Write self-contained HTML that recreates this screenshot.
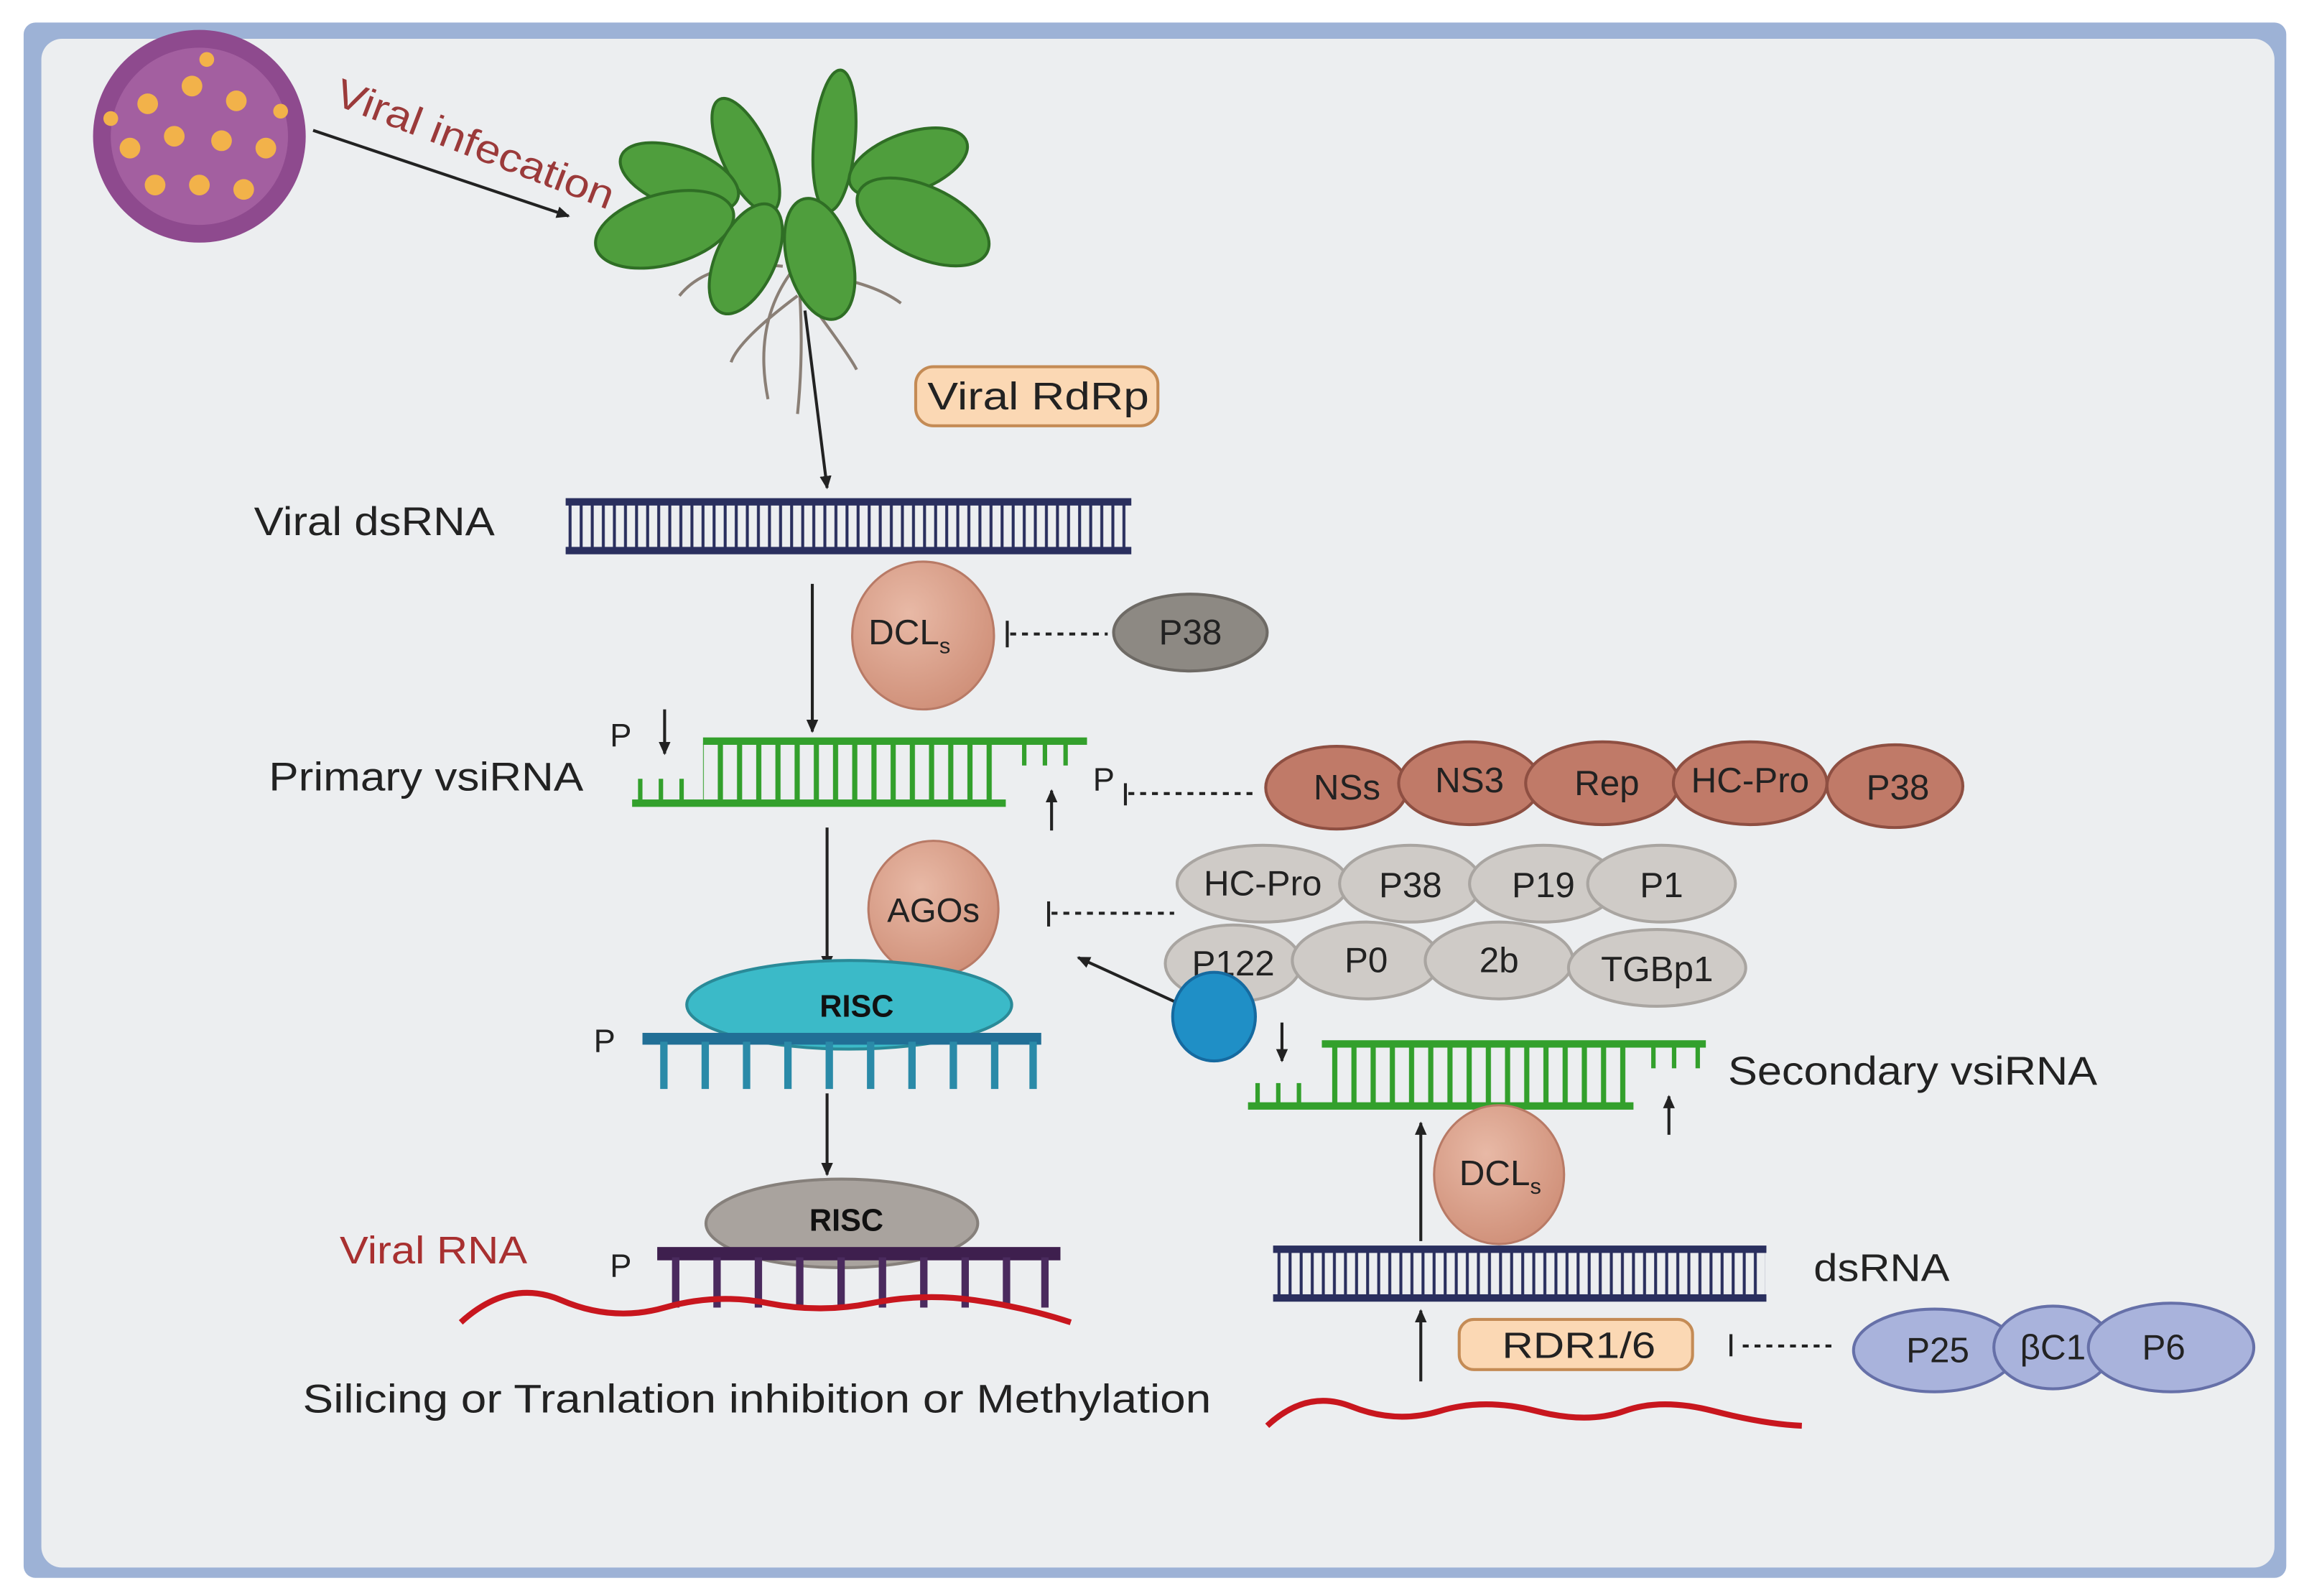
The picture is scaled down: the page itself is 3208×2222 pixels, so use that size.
<!DOCTYPE html>
<html><head><meta charset="utf-8"><style>
html,body{margin:0;padding:0;background:#fff}
svg{display:block}
text{font-family:"Liberation Sans",sans-serif}
</style></head><body>
<svg width="3208" height="2222" viewBox="0 0 1560 1080" xmlns="http://www.w3.org/2000/svg">
<defs>
<marker id="ah" markerWidth="10" markerHeight="10" refX="8" refY="5" orient="auto" markerUnits="userSpaceOnUse"><path d="M0,1 L9,5 L0,9z" fill="#222"/></marker>
<pattern id="navy" width="7.5" height="40" patternUnits="userSpaceOnUse"><rect x="2.5" y="0" width="2" height="40" fill="#2a2f5e"/></pattern>
<pattern id="grn" width="13" height="60" patternUnits="userSpaceOnUse"><rect x="5" y="0" width="3.5" height="60" fill="#33a02c"/></pattern>
<radialGradient id="pk" cx="40%" cy="35%" r="70%"><stop offset="0" stop-color="#e8b9a6"/><stop offset="1" stop-color="#cf8f78"/></radialGradient>
</defs>
<rect x="0" y="0" width="1560" height="1080" fill="#fff"/>
<rect x="16" y="15" width="1532" height="1053" rx="8" fill="#9db2d6"/>
<rect x="28" y="26" width="1512" height="1035" rx="14" fill="#eceef0"/>

<!-- virus -->
<circle cx="135" cy="92" r="72" fill="#8e4a8e"/>
<circle cx="135" cy="92" r="60" fill="#a35fa0"/>
<g fill="#f2b24a">
<circle cx="100" cy="70" r="7"/><circle cx="130" cy="58" r="7"/><circle cx="160" cy="68" r="7"/><circle cx="88" cy="100" r="7"/><circle cx="118" cy="92" r="7"/><circle cx="150" cy="95" r="7"/><circle cx="180" cy="100" r="7"/><circle cx="105" cy="125" r="7"/><circle cx="135" cy="125" r="7"/><circle cx="165" cy="128" r="7"/><circle cx="140" cy="40" r="5"/><circle cx="75" cy="80" r="5"/><circle cx="190" cy="75" r="5"/></g>
<text x="225" y="70" font-size="27" fill="#9b3a3a" transform="rotate(21 225 70)" textLength="200" lengthAdjust="spacingAndGlyphs">Viral infecation</text>
<line x1="212" y1="88" x2="385" y2="146" stroke="#222" stroke-width="2" marker-end="url(#ah)"/>

<!-- plant -->
<g stroke="#8a7f76" stroke-width="2" fill="none">
<path d="M540 180 Q545 230 540 280"/><path d="M535 185 Q510 220 520 270"/><path d="M530 180 Q480 175 460 200"/><path d="M548 185 Q590 190 610 205"/><path d="M540 200 Q500 230 495 245"/><path d="M545 200 Q575 240 580 250"/></g>
<g fill="#4f9e3d" stroke="#2f6e25" stroke-width="2">
<ellipse cx="565" cy="95" rx="14" ry="48" transform="rotate(5 565 95)"/>
<ellipse cx="505" cy="105" rx="16" ry="42" transform="rotate(-25 505 105)"/>
<ellipse cx="460" cy="120" rx="42" ry="20" transform="rotate(20 460 120)"/>
<ellipse cx="615" cy="110" rx="42" ry="20" transform="rotate(-20 615 110)"/>
<ellipse cx="450" cy="155" rx="48" ry="24" transform="rotate(-15 450 155)"/>
<ellipse cx="625" cy="150" rx="48" ry="24" transform="rotate(25 625 150)"/>
<ellipse cx="505" cy="175" rx="20" ry="40" transform="rotate(25 505 175)"/>
<ellipse cx="555" cy="175" rx="22" ry="42" transform="rotate(-15 555 175)"/>
</g>
<line x1="545" y1="210" x2="560" y2="330" stroke="#222" stroke-width="2" marker-end="url(#ah)"/>
<rect x="620" y="248" width="164" height="40" rx="12" fill="#fbd8b4" stroke="#c48b55" stroke-width="2"/>
<text x="628" y="277" font-size="26" fill="#222" textLength="150" lengthAdjust="spacingAndGlyphs">Viral RdRp</text>

<!-- viral dsRNA -->
<text x="172" y="362" font-size="27" fill="#222" textLength="163" lengthAdjust="spacingAndGlyphs">Viral dsRNA</text>
<rect x="384" y="340" width="381" height="32" fill="url(#navy)"/>
<rect x="383" y="337" width="383" height="5" fill="#2a2f5e"/>
<rect x="383" y="370" width="383" height="5" fill="#2a2f5e"/>
<line x1="550" y1="395" x2="550" y2="495" stroke="#222" stroke-width="2" marker-end="url(#ah)"/>
<ellipse cx="625" cy="430" rx="48" ry="50" fill="url(#pk)" stroke="#b87a66" stroke-width="1.5"/>
<text x="588" y="436" font-size="24" fill="#222">DCL<tspan font-size="15" dy="6">s</tspan></text>
<line x1="682" y1="420" x2="682" y2="438" stroke="#222" stroke-width="2"/>
<line x1="684" y1="429" x2="750" y2="429" stroke="#222" stroke-width="2" stroke-dasharray="4,4"/>
<ellipse cx="806" cy="428" rx="52" ry="26" fill="#8d8983" stroke="#6e6a65" stroke-width="2"/>
<text x="806" y="436" font-size="24" text-anchor="middle" fill="#222">P38</text>

<!-- primary vsiRNA -->
<text x="182" y="535" font-size="27" fill="#222" textLength="213" lengthAdjust="spacingAndGlyphs">Primary vsiRNA</text>
<rect x="476" y="503" width="204" height="40" fill="url(#grn)"/>
<rect x="476" y="499" width="260" height="5" fill="#33a02c"/>
<rect x="428" y="541" width="253" height="5" fill="#33a02c"/>
<g fill="#33a02c"><rect x="432" y="527" width="3" height="15"/><rect x="446" y="527" width="3" height="15"/><rect x="460" y="527" width="3" height="15"/><rect x="692" y="503" width="3" height="15"/><rect x="706" y="503" width="3" height="15"/><rect x="720" y="503" width="3" height="15"/></g>
<text x="413" y="505" font-size="22" fill="#222">P</text>
<line x1="450" y1="480" x2="450" y2="510" stroke="#222" stroke-width="2" marker-end="url(#ah)"/>
<text x="740" y="535" font-size="22" fill="#222">P</text>
<line x1="712" y1="562" x2="712" y2="535" stroke="#222" stroke-width="2" marker-end="url(#ah)"/>
<line x1="762" y1="530" x2="762" y2="545" stroke="#222" stroke-width="2"/>
<line x1="764" y1="537" x2="850" y2="537" stroke="#222" stroke-width="2" stroke-dasharray="4,4"/>
<g fill="#c07a68" stroke="#8e4f42" stroke-width="2">
<ellipse cx="905" cy="533" rx="48" ry="28"/><ellipse cx="995" cy="530" rx="48" ry="28"/><ellipse cx="1085" cy="530" rx="52" ry="28"/><ellipse cx="1185" cy="530" rx="52" ry="28"/><ellipse cx="1283" cy="532" rx="46" ry="28"/></g>
<g font-size="24" fill="#222" text-anchor="middle"><text x="912" y="541">NSs</text><text x="995" y="536">NS3</text><text x="1088" y="538">Rep</text><text x="1185" y="536">HC-Pro</text><text x="1285" y="541">P38</text></g>

<!-- AGOs -->
<line x1="560" y1="560" x2="560" y2="655" stroke="#222" stroke-width="2" marker-end="url(#ah)"/>
<ellipse cx="632" cy="615" rx="44" ry="46" fill="url(#pk)" stroke="#b87a66" stroke-width="1.5"/>
<text x="632" y="624" font-size="23" text-anchor="middle" fill="#222">AGOs</text>
<line x1="710" y1="610" x2="710" y2="627" stroke="#222" stroke-width="2"/>
<line x1="712" y1="618" x2="795" y2="618" stroke="#222" stroke-width="2" stroke-dasharray="4,4"/>
<g fill="#cfcbc7" stroke="#a9a5a1" stroke-width="2">
<ellipse cx="855" cy="598" rx="58" ry="26"/><ellipse cx="955" cy="598" rx="48" ry="26"/><ellipse cx="1045" cy="598" rx="50" ry="26"/><ellipse cx="1125" cy="598" rx="50" ry="26"/>
<ellipse cx="835" cy="652" rx="46" ry="26"/><ellipse cx="925" cy="650" rx="50" ry="26"/><ellipse cx="1015" cy="650" rx="50" ry="26"/><ellipse cx="1122" cy="655" rx="60" ry="26"/></g>
<g font-size="24" fill="#222" text-anchor="middle"><text x="855" y="606">HC-Pro</text><text x="955" y="607">P38</text><text x="1045" y="607">P19</text><text x="1125" y="607">P1</text>
<text x="835" y="660">P122</text><text x="925" y="658">P0</text><text x="1015" y="658">2b</text><text x="1122" y="664">TGBp1</text></g>
<line x1="800" y1="680" x2="730" y2="648" stroke="#222" stroke-width="2" marker-end="url(#ah)"/>
<ellipse cx="822" cy="688" rx="28" ry="30" fill="#1f8fc6" stroke="#156aa0" stroke-width="2"/>

<!-- RISC 1 -->
<ellipse cx="575" cy="680" rx="110" ry="30" fill="#3bbac8" stroke="#2a8a98" stroke-width="2"/>
<text x="555" y="688" font-size="21" font-weight="bold" fill="#111">RISC</text>
<rect x="435" y="699" width="270" height="8" fill="#216f96"/>
<g fill="#2a8aa8"><rect x="447" y="705" width="5" height="32"/><rect x="475" y="705" width="5" height="32"/><rect x="503" y="705" width="5" height="32"/><rect x="531" y="705" width="5" height="32"/><rect x="559" y="705" width="5" height="32"/><rect x="587" y="705" width="5" height="32"/><rect x="615" y="705" width="5" height="32"/><rect x="643" y="705" width="5" height="32"/><rect x="671" y="705" width="5" height="32"/><rect x="697" y="705" width="5" height="32"/></g>
<text x="402" y="712" font-size="22" fill="#222">P</text>
<line x1="560" y1="740" x2="560" y2="795" stroke="#222" stroke-width="2" marker-end="url(#ah)"/>

<!-- RISC 2 -->
<ellipse cx="570" cy="828" rx="92" ry="30" fill="#a9a39e" stroke="#86807b" stroke-width="2"/>
<text x="548" y="833" font-size="21" font-weight="bold" fill="#111">RISC</text>
<rect x="445" y="844" width="273" height="9" fill="#3e1f4e"/>
<g fill="#4a2a5e"><rect x="455" y="851" width="5" height="34"/><rect x="483" y="851" width="5" height="34"/><rect x="511" y="851" width="5" height="34"/><rect x="539" y="851" width="5" height="34"/><rect x="567" y="851" width="5" height="34"/><rect x="595" y="851" width="5" height="34"/><rect x="623" y="851" width="5" height="34"/><rect x="651" y="851" width="5" height="34"/><rect x="679" y="851" width="5" height="34"/><rect x="705" y="851" width="5" height="34"/></g>
<text x="413" y="864" font-size="22" fill="#222">P</text>
<text x="230" y="855" font-size="26" fill="#a83030" textLength="127" lengthAdjust="spacingAndGlyphs">Viral RNA</text>
<path d="M312 895 Q345 865 380 880 T450 885 T520 882 T590 882 T660 880 T725 895" fill="none" stroke="#c8161e" stroke-width="4"/>
<text x="205" y="956" font-size="27" fill="#222" textLength="615" lengthAdjust="spacingAndGlyphs">Silicing or Tranlation inhibition or Methylation</text>

<!-- Secondary vsiRNA -->
<rect x="895" y="708" width="210" height="40" fill="url(#grn)"/>
<rect x="895" y="704" width="260" height="5" fill="#33a02c"/>
<rect x="845" y="746" width="261" height="5" fill="#33a02c"/>
<g fill="#33a02c"><rect x="850" y="733" width="3" height="15"/><rect x="864" y="733" width="3" height="15"/><rect x="878" y="733" width="3" height="15"/><rect x="1118" y="708" width="3" height="15"/><rect x="1132" y="708" width="3" height="15"/><rect x="1148" y="708" width="3" height="15"/></g>
<line x1="868" y1="692" x2="868" y2="718" stroke="#222" stroke-width="2" marker-end="url(#ah)"/>
<line x1="1130" y1="768" x2="1130" y2="742" stroke="#222" stroke-width="2" marker-end="url(#ah)"/>
<text x="1170" y="734" font-size="27" fill="#222" textLength="250" lengthAdjust="spacingAndGlyphs">Secondary vsiRNA</text>
<ellipse cx="1015" cy="795" rx="44" ry="47" fill="url(#pk)" stroke="#b87a66" stroke-width="1.5"/>
<text x="988" y="802" font-size="24" fill="#222">DCL<tspan font-size="15" dy="6">s</tspan></text>
<line x1="962" y1="840" x2="962" y2="760" stroke="#222" stroke-width="2" marker-end="url(#ah)"/>

<!-- dsRNA -->
<rect x="863" y="846" width="332" height="32" fill="url(#navy)"/>
<rect x="862" y="843" width="334" height="5" fill="#2a2f5e"/>
<rect x="862" y="876" width="334" height="5" fill="#2a2f5e"/>
<text x="1228" y="867" font-size="26" fill="#222" textLength="92" lengthAdjust="spacingAndGlyphs">dsRNA</text>
<line x1="962" y1="935" x2="962" y2="887" stroke="#222" stroke-width="2" marker-end="url(#ah)"/>
<rect x="988" y="893" width="158" height="34" rx="10" fill="#fbd8b4" stroke="#c48b55" stroke-width="2"/>
<text x="1017" y="919" font-size="25" fill="#222" textLength="104" lengthAdjust="spacingAndGlyphs">RDR1/6</text>
<line x1="1172" y1="903" x2="1172" y2="918" stroke="#222" stroke-width="2"/>
<line x1="1180" y1="911" x2="1240" y2="911" stroke="#222" stroke-width="2" stroke-dasharray="4,4"/>
<g fill="#a9b3dc" stroke="#6670a8" stroke-width="2">
<ellipse cx="1310" cy="914" rx="55" ry="28"/><ellipse cx="1390" cy="912" rx="40" ry="28"/><ellipse cx="1470" cy="912" rx="56" ry="30"/></g>
<g font-size="24" fill="#222" text-anchor="middle"><text x="1312" y="922">P25</text><text x="1390" y="920">βC1</text><text x="1465" y="920">P6</text></g>
<path d="M858 965 Q885 940 915 952 T975 955 T1040 955 T1100 955 T1160 955 T1220 965" fill="none" stroke="#c8161e" stroke-width="4"/>
</svg>
</body></html>
